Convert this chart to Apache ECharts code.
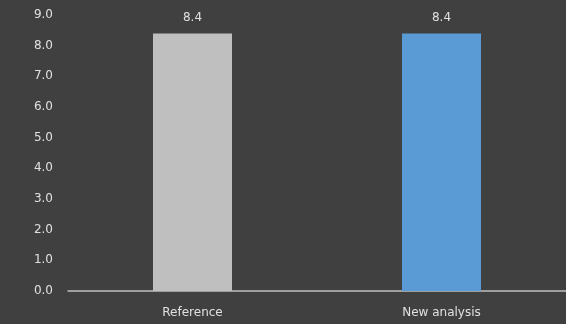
<!DOCTYPE html>
<html>
<head>
<meta charset="utf-8">
<script src="https://cdn.jsdelivr.net/npm/echarts@6/dist/echarts.min.js"></script>
<style>
  html, body { margin: 0; padding: 0; background: #404040; }
</style>
</head>
<body>
<div id="main" style="width: 566px; height: 324px;"></div>
<script>
var categories = ['Reference', 'New analysis']
var values = [8.4, 8.4]
var barColors = ['#bfbfbf', '#5b9bd5']

var chart = echarts.init(document.getElementById('main'))
var option = {
  backgroundColor: '#404040',
  animation: false,
  grid: {
    top: 15,
    left: 68,
    width: 502,
    bottom: 33
  },
  xAxis: {
    type: 'category',
    data: categories,
    axisLine: { lineStyle: { color: '#bfbfbf', width: 1.5 } },
    axisTick: { show: false },
    axisLabel: {
      color: '#e0e0e0',
      fontFamily: 'DejaVu Sans',
      fontSize: 12,
      margin: 16
    }
  },
  yAxis: {
    type: 'value',
    min: 0,
    max: 9,
    interval: 1,
    splitLine: { show: false },
    axisLine: { show: false },
    axisTick: { show: false },
    axisLabel: {
      color: '#e0e0e0',
      fontFamily: 'DejaVu Sans',
      fontSize: 12,
      margin: 15,
      formatter: function (v) { return v.toFixed(1) }
    }
  },
  series: [
    {
      type: 'bar',
      barWidth: 79,
      data: values.map(function (v, i) {
        return { value: v, itemStyle: { color: barColors[i] } }
      }),
      label: {
        show: true,
        position: 'top',
        distance: 10,
        color: '#e0e0e0',
        fontFamily: 'DejaVu Sans',
        fontSize: 12,
        formatter: function (p) { return p.value.toFixed(1) }
      }
    }
  ]
}
chart.setOption(option)
</script>
</body>
</html>
